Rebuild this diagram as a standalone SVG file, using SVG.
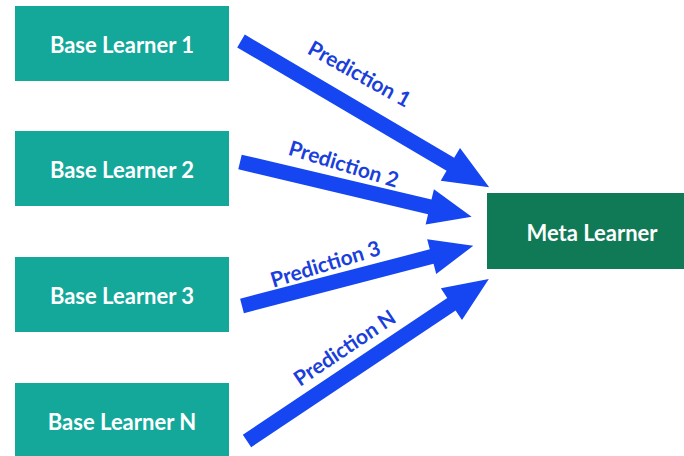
<svg xmlns="http://www.w3.org/2000/svg" width="684" height="456" viewBox="0 0 684 456">
<style>
.base{fill:#14a89a}
.meta{fill:#107a56}
.nt{font-family:Lato,"Open Sans",sans-serif;font-weight:bold;font-size:22px;fill:#ffffff;text-anchor:middle;dominant-baseline:central}
.arr{fill:#1546f2}
.lbl{font-family:Lato,"Open Sans",sans-serif;font-weight:bold;font-size:21px;fill:#1a3fdc;text-anchor:middle;dominant-baseline:central}
</style>
<rect width="684" height="456" fill="#ffffff"/>
<g id="connectors">
<path class="arr" transform="translate(241,41) rotate(30.5)" d="M0,-7.5 L243,-7.5 L243,-19 L288,0 L243,19 L243,7.5 L0,7.5 Z"/>
<path class="arr" transform="translate(240,162) rotate(13.3)" d="M0,-7.5 L195,-7.5 L195,-18 L238,0 L195,18 L195,7.5 L0,7.5 Z"/>
<path class="arr" transform="translate(242,306) rotate(-14.6)" d="M0,-7.5 L196,-7.5 L196,-18 L239,0 L196,18 L196,7.5 L0,7.5 Z"/>
<path class="arr" transform="translate(247,441) rotate(-33.8)" d="M0,-7.5 L246,-7.5 L246,-19 L291,0 L246,19 L246,7.5 L0,7.5 Z"/>
<text class="lbl" transform="translate(360,73) rotate(29)">Prediction 1</text>
<text class="lbl" transform="translate(344,163) rotate(17)">Prediction 2</text>
<text class="lbl" transform="translate(325,263) rotate(-17)">Prediction 3</text>
<text class="lbl" transform="translate(344,347) rotate(-34)">Prediction N</text>
</g>
<g id="base1"><rect class="base" x="15" y="6" width="214" height="75"/><text class="nt" x="122" y="44">Base Learner 1</text></g>
<g id="base2"><rect class="base" x="15" y="131" width="214" height="75"/><text class="nt" x="122" y="169">Base Learner 2</text></g>
<g id="base3"><rect class="base" x="15" y="257" width="214" height="75"/><text class="nt" x="122" y="295">Base Learner 3</text></g>
<g id="baseN"><rect class="base" x="15" y="383" width="214" height="80"/><text class="nt" x="122" y="421">Base Learner N</text></g>
<g id="meta"><rect class="meta" x="487" y="193" width="205" height="76"/><text class="nt" x="592" y="232">Meta Learner</text></g>
</svg>
